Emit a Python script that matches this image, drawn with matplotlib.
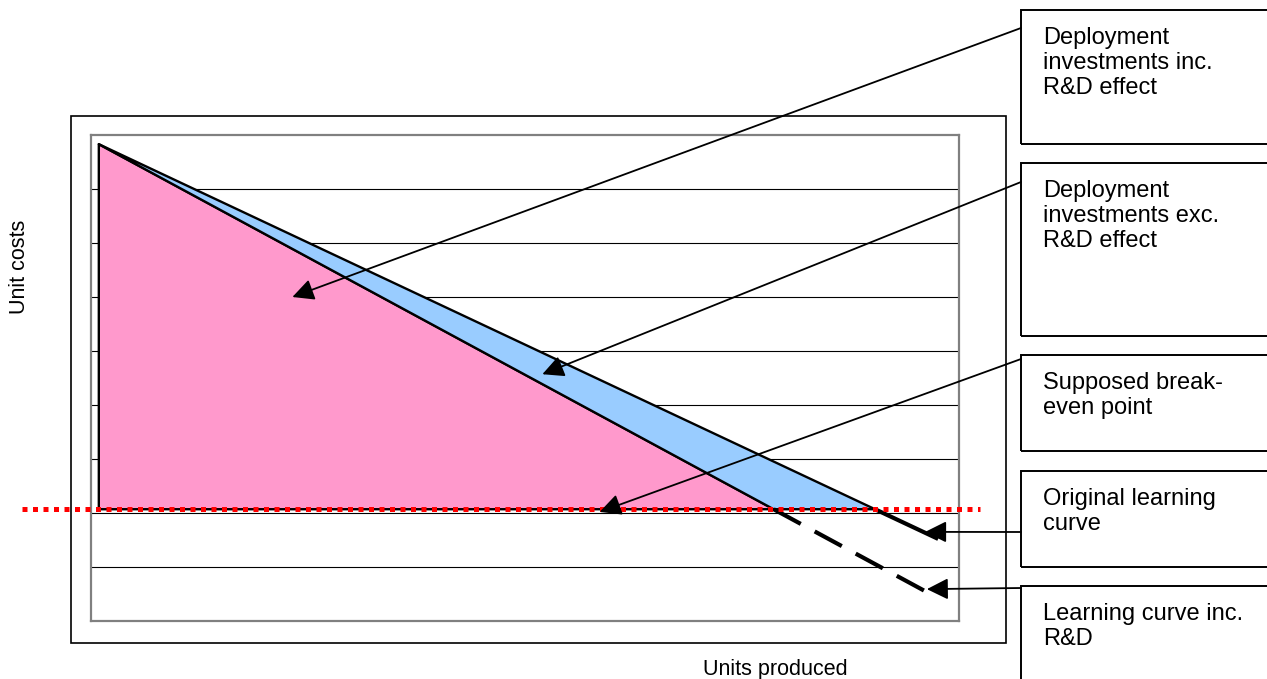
import numpy as np
import matplotlib
matplotlib.use("Agg")
import matplotlib.pyplot as plt
from matplotlib.patches import Rectangle
from matplotlib.transforms import blended_transform_factory

plt.rcParams["font.family"] = ["Liberation Sans", "DejaVu Sans"]

# learning curves (units produced -> unit cost, chart units)
units = [0.9, 97.6]
original_cost = [8.83, 1.52]
units_rd = [0.9, 96.7]
rd_cost = [8.83, 0.50]
break_even = 2.07
grid_levels = [1, 2, 3, 4, 5, 6, 7, 8]

callouts = [
    "Deployment\ninvestments inc.\nR&D effect",
    "Deployment\ninvestments exc.\nR&D effect",
    "Supposed break-\neven point",
    "Original learning\ncurve",
    "Learning curve inc.\nR&D",
]
# where each callout arrow points, in data coords
target_x = [23.2, 52.0, 58.6, 96.1, 96.3]
target_y = [6.0, 4.57, 2.02, 1.65, 0.59]

# page layout in pixels (top-left origin)
W, H = 1267, 679
box_top = [10, 163, 355, 471, 586]
box_bottom = [144, 336, 451, 567, 700]
arrow_start_y = [28, 182, 359, 532, 588]


def fx(px):
    return px / W


def fy(py):
    return 1 - py / H


fig = plt.figure(figsize=(W / 100, H / 100), dpi=100)
ax = fig.add_axes([fx(91), fy(621), fx(959) - fx(91), fy(135) - fy(621)])
ax.set_xlim(0, 100)
ax.set_ylim(0, 9)

ax.set_xticks([])
ax.set_yticks(grid_levels)
ax.tick_params(length=0, labelleft=False)
ax.yaxis.grid(True, color="black", lw=0.8)
ax.set_axisbelow(True)
for sp in ax.spines.values():
    sp.set_color("#808080")
    sp.set_linewidth(1.6)

# where each curve meets the break-even cost
xu = np.interp(break_even, original_cost[::-1], units[::-1])
xl = np.interp(break_even, rd_cost[::-1], units_rd[::-1])

pink = [(units_rd[0], rd_cost[0]), (xl, break_even), (units_rd[0], break_even)]
blue = [(units[0], original_cost[0]), (xu, break_even), (xl, break_even),
        (units_rd[0], rd_cost[0])]
px_, py_ = zip(*pink)
ax.fill(px_, py_, facecolor="#FF99CC", edgecolor="black", lw=1.7,
        joinstyle="round", zorder=2)
bx_, by_ = zip(*blue)
ax.fill(bx_, by_, facecolor="#99CCFF", edgecolor="black", lw=1.7,
        joinstyle="round", zorder=2)

# curves below break-even
ax.plot([xu, units[1]], [break_even, original_cost[1]], color="black", lw=3,
        solid_capstyle="butt", zorder=3)
ax.plot([xl, units_rd[1]], [break_even, rd_cost[1]], color="black", lw=3,
        dashes=(7.4, 3.8), zorder=3)

# break-even line runs past the plot area
trans = blended_transform_factory(fig.transFigure, ax.transData)
ax.plot([fx(22), fx(980)], [break_even, break_even], transform=trans,
        color="red", lw=3.6, dashes=(1, 1.1), clip_on=False, zorder=5)

# chart frame
fig.add_artist(Rectangle((fx(71), fy(643)), fx(1006) - fx(71), fy(116) - fy(643),
                         transform=fig.transFigure, fill=False, ec="black", lw=1.2))

# callout boxes with arrows
for label, top, bottom, sy, tx, ty in zip(callouts, box_top, box_bottom,
                                          arrow_start_y, target_x, target_y):
    fig.add_artist(Rectangle((fx(1021), fy(bottom)), fx(1300) - fx(1021),
                             fy(top) - fy(bottom), transform=fig.transFigure,
                             fill=False, ec="black", lw=1.4, clip_on=False))
    fig.text(fx(1043), fy(top + 17), label, fontsize=17, va="top",
             ha="left", linespacing=1.17)
    ax.annotate("", xy=(tx, ty), xycoords="data",
                xytext=(fx(1021), fy(sy)), textcoords="figure fraction",
                arrowprops=dict(arrowstyle="-|>,head_length=1.3,head_width=0.65",
                                mutation_scale=10, color="black", lw=1.3,
                                shrinkA=0, shrinkB=0),
                annotation_clip=False, zorder=6)

fig.text(fx(20), fy(267), "Unit costs", rotation=90, ha="center", va="center",
         fontsize=15.5)
fig.text(fx(775), fy(675), "Units produced", ha="center", va="baseline",
         fontsize=15.5)

fig.savefig("out.png", dpi=100)
